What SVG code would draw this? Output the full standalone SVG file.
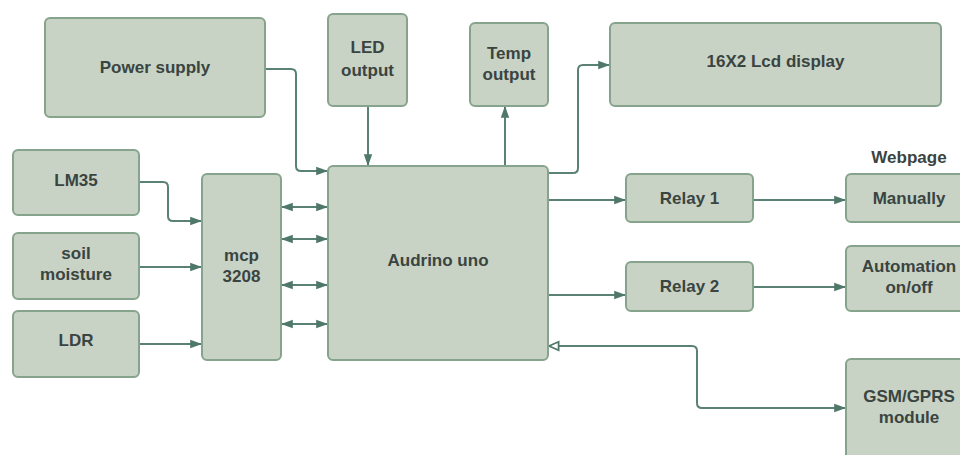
<svg xmlns="http://www.w3.org/2000/svg" width="960" height="455" viewBox="0 0 960 455">
<style>
.n{fill:#c8d3c5;stroke:#86a38b;stroke-width:2}
.t{font-family:"Liberation Sans",Arial,sans-serif;font-weight:bold;font-size:17px;fill:#3a4441;text-anchor:middle}
.c{fill:none;stroke:#5a8274;stroke-width:2;stroke-linejoin:round}
</style>
<defs>
<marker id="a" viewBox="0 0 10 10" refX="9" refY="5" markerWidth="6" markerHeight="6" orient="auto-start-reverse" markerUnits="strokeWidth">
<path d="M0,1.5 L10,5 L0,8.5 Z" fill="#4f7868"/>
</marker>
<marker id="o" viewBox="0 0 10 10" refX="9" refY="5" markerWidth="6" markerHeight="6" orient="auto-start-reverse" markerUnits="strokeWidth">
<path d="M1,1.5 L9,5 L1,8.5 Z" fill="#fff" stroke="#4f7868" stroke-width="1.5"/>
</marker>
</defs>
<rect width="960" height="455" fill="#fff"/>
<g id="connectors">
<path class="c" d="M265,69 H291 Q296,69 296,74 V166 Q296,171 301,171 H327" marker-end="url(#a)"/>
<path class="c" d="M368,106 V165" marker-end="url(#a)"/>
<path class="c" d="M505,166 V107" marker-end="url(#a)"/>
<path class="c" d="M548,173 H573 Q578,173 578,168 V70 Q578,65 583,65 H609" marker-end="url(#a)"/>
<path class="c" d="M548,200 H625" marker-end="url(#a)"/>
<path class="c" d="M753,200 H845" marker-end="url(#a)"/>
<path class="c" d="M139,182 H163 Q168,182 168,187 V216 Q168,221 173,221 H201" marker-end="url(#a)"/>
<path class="c" d="M139,267 H201" marker-end="url(#a)"/>
<path class="c" d="M139,344 H201" marker-end="url(#a)"/>
<path class="c" d="M282,207 H327" marker-start="url(#a)" marker-end="url(#a)"/>
<path class="c" d="M282,239 H327" marker-start="url(#a)" marker-end="url(#a)"/>
<path class="c" d="M282,285 H327" marker-start="url(#a)" marker-end="url(#a)"/>
<path class="c" d="M282,324 H327" marker-start="url(#a)" marker-end="url(#a)"/>
<path class="c" d="M548,295 H625" marker-end="url(#a)"/>
<path class="c" d="M753,287 H845" marker-end="url(#a)"/>
<path class="c" d="M549,346 H692 Q697,346 697,351 V403 Q697,408 702,408 H845" marker-start="url(#o)" marker-end="url(#a)"/>
</g>
<g id="power"><rect class="n" x="45" y="18" width="220" height="99" rx="5"/><text class="t" x="155" y="73">Power supply</text></g>
<g id="led"><rect class="n" x="328" y="14" width="79" height="92" rx="5"/><text class="t" x="367.5" y="53">LED</text><text class="t" x="367.5" y="76">output</text></g>
<g id="temp"><rect class="n" x="470" y="23" width="78" height="83" rx="5"/><text class="t" x="509" y="59">Temp</text><text class="t" x="509" y="80">output</text></g>
<g id="lcd"><rect class="n" x="610" y="23" width="331" height="83" rx="5"/><text class="t" x="775.5" y="67">16X2 Lcd display</text></g>
<g id="lm35"><rect class="n" x="13" y="150" width="126" height="65" rx="5"/><text class="t" x="76" y="186">LM35</text></g>
<g id="soil"><rect class="n" x="13" y="233" width="126" height="66" rx="5"/><text class="t" x="76" y="259">soil</text><text class="t" x="76" y="280">moisture</text></g>
<g id="ldr"><rect class="n" x="13" y="311" width="126" height="66" rx="5"/><text class="t" x="76" y="346">LDR</text></g>
<g id="mcp"><rect class="n" x="202" y="174" width="79" height="186" rx="5"/><text class="t" x="241.5" y="261">mcp</text><text class="t" x="241.5" y="282">3208</text></g>
<g id="arduino"><rect class="n" x="328" y="166" width="220" height="194" rx="5"/><text class="t" x="438" y="266">Audrino uno</text></g>
<g id="relay1"><rect class="n" x="626" y="174" width="127" height="48" rx="5"/><text class="t" x="689.5" y="204">Relay 1</text></g>
<g id="relay2"><rect class="n" x="626" y="262" width="127" height="49" rx="5"/><text class="t" x="689.5" y="292">Relay 2</text></g>
<g id="manually"><text class="t" x="909" y="163">Webpage</text><rect class="n" x="846" y="174" width="124" height="48" rx="5"/><text class="t" x="909" y="204">Manually</text></g>
<g id="automation"><rect class="n" x="846" y="246" width="124" height="65" rx="5"/><text class="t" x="909" y="272">Automation</text><text class="t" x="909" y="293">on/off</text></g>
<g id="gsm"><rect class="n" x="846" y="359" width="124" height="110" rx="5"/><text class="t" x="909" y="402">GSM/GPRS</text><text class="t" x="909" y="423">module</text></g>
</svg>
